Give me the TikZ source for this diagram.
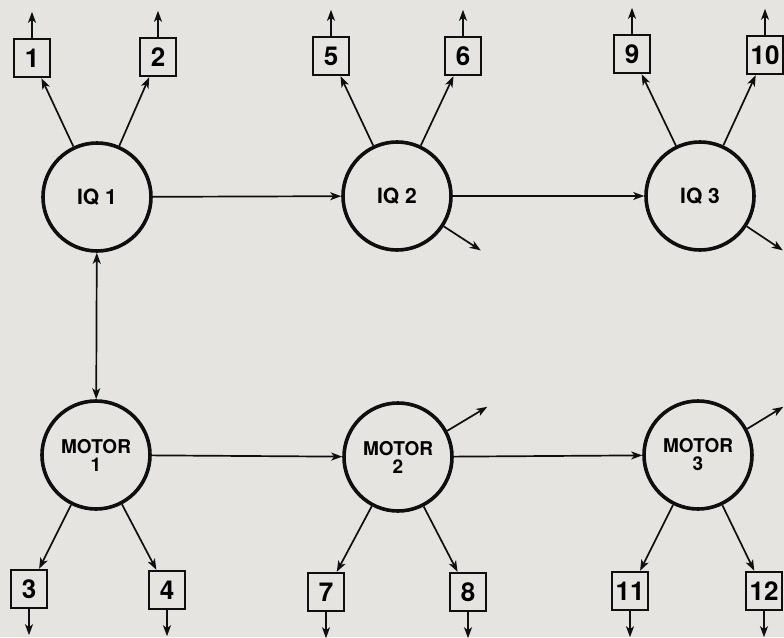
\documentclass[tikz,border=0pt]{standalone}
\usepackage{fontspec}
\setmainfont{TeX Gyre Heros}
\usetikzlibrary{arrows.meta}
\definecolor{paper}{RGB}{229,228,225}
\definecolor{ink}{RGB}{15,15,15}

\begin{document}
\begin{tikzpicture}[x=1pt, y=-1pt, >={Stealth[length=11pt,width=8pt,inset=3pt]}]
            \fill[paper] (0,0) rectangle (784,637);
            \useasboundingbox (0,0) rectangle (784,637);
            \begin{scope}[
                    latent/.style={circle, draw=ink, line width=3.6pt, minimum size=108pt,
                        inner sep=0pt, align=center, font=\bfseries\fontsize{19}{18}\selectfont},
                    iqnode/.style={latent, font=\bfseries\fontsize{21}{20}\selectfont},
                    measure/.style={rectangle, draw=ink, line width=2.4pt, minimum width=36pt,
                        minimum height=38pt, inner sep=1pt, font=\bfseries\fontsize{26}{26}\selectfont},
                    every edge/.style={draw=ink, line width=1.7pt, ->}
                ]

                \node[iqnode] (iq1) at (97,197) {IQ 1};
                \node[iqnode] (iq2) at (397,196) {IQ 2};
                \node[iqnode] (iq3) at (700,196) {IQ 3};
                \node[latent] (motor1) at (96,455) {MOTOR\\1};
                \node[latent] (motor2) at (398,457) {MOTOR\\2};
                \node[latent] (motor3) at (698,455) {MOTOR\\3};

                \node[measure] (1) at (32,58) {1};
                \node[measure] (2) at (158,57) {2};
                \node[measure] (5) at (331,56) {5};
                \node[measure] (6) at (463,56) {6};
                \node[measure] (9) at (632,54) {9};
                \node[measure] (10) at (765,55) {10};
                \node[measure] (3) at (29,589) {3};
                \node[measure] (4) at (167,590) {4};
                \node[measure] (7) at (326,592) {7};
                \node[measure] (8) at (468,592) {8};
                \node[measure] (11) at (630,591) {11};
                \node[measure] (12) at (764,591) {12};

                \path (iq1) edge (iq2);
                \path (iq2) edge (iq3);
                \path (motor1) edge (motor2);
                \path (motor2) edge (motor3);
                \path (iq1) edge[<->] (motor1);

                \path (iq1) edge (1) (iq1) edge (2);
                \path (iq2) edge (5) (iq2) edge (6);
                \path (iq3) edge (9) (iq3) edge (10);
                \path (motor1) edge (3) (motor1) edge (4);
                \path (motor2) edge (7) (motor2) edge (8);
                \path (motor3) edge (11) (motor3) edge (12);

                \foreach \n in {1,2,5,6,9,10}
                    \path (\n.north) edge ++(0,-26);
                \foreach \n in {3,4,7,8,11,12}
                    \path (\n.south) edge ++(0,26);

                \path (iq2.-33) edge ++(37,24);
                \path (iq3.-33) edge ++(36,24);
                \path (motor2.28) edge ++(40,-24);
                \path (motor3.28) edge ++(36,-22);
            \end{scope}
        \end{tikzpicture}
\end{document}
